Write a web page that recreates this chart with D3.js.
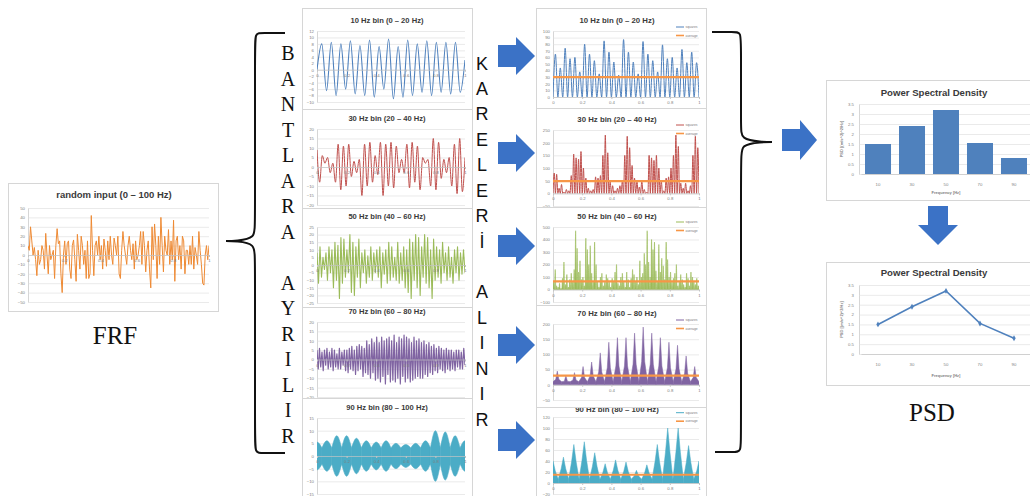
<!DOCTYPE html>
<html><head><meta charset="utf-8">
<script src="https://cdn.jsdelivr.net/npm/d3@7"></script>
<style>body{margin:0;background:#fff}svg{display:block}</style>
</head><body>
<script>
// ---------------- DATA ----------------
const timeTicks = [0, 0.2, 0.4, 0.6, 0.8, 1];
const timeTickLabels = ["0", "0.2", "0.4", "0.6", "0.8", "1"];

const frfTitle = "random input (0 – 100 Hz)";
const frfTicks = [-50, -40, -30, -20, -10, 0, 10, 20, 30, 40, 50];
const frfSignal = [10,5,30,15,0,8,-5,-22,5,-10,
  -5,10,5,-15,23,0,-20,10,-5,0,5,-25,10,
  28,12,15,-20,-40,0,15,-10,12,15,-15,-25,10,
  16,-5,-28,22,5,-15,20,10,-10,5,-25,15,-25,-20,
  42,5,-22,10,15,0,20,-5,10,-15,17,5,-12,15,
  -5,20,0,-10,18,10,0,20,-20,-25,5,25,10,0,
  -10,10,20,5,-5,12,-15,15,-5,0,10,25,-10,
  25,10,-18,5,15,-15,-35,30,-5,33,10,-25,20,
  -10,40,10,-18,20,5,0,27,-10,15,-5,37,-28,
  15,20,-5,10,-15,20,15,-20,5,5,-10,10,-10,
  20,-15,8,0,-10,25,5,-10,-30,-32,0,10,-5,10];

const binTitles = ["10 Hz bin (0 – 20 Hz)", "30 Hz bin (20 – 40 Hz)", "50 Hz bin (40 – 60 Hz)", "70 Hz bin (60 – 80 Hz)", "90 Hz bin (80 – 100 Hz)"];

const bin10Ticks = [-10,-8,-6,-4,-2,0,2,4,6,8,10,12];
const bin10Signal = [0,8,-6.5,8.5,-8,8,-6,9,-7.5,7.5,-8,9.2,-8.5,7.2,-6,9.5,-9,7.2,-8.5,9.2,-8,8,-7,9,-8,8.5,-7,8.5,-7.5,8.5,-7,3];

const bin30Ticks = [-20,-15,-10,-5,0,5,10,15,20];
const bin30Signal = [9,-8,6,2,5,-3,2,-8,12,-12,11,-10,12,-5,3,-3,4,-15,12,-10,13,-8,6,-4,13,-15,12,-10,13,-11,11,-3,4,-3,12,-11,13,-8,11,-12,5,2,4,-10,15,-12,13,-6,4,-3,5,-10,12,-14,15,-13,5];

const bin50Ticks = [-25,-20,-15,-10,-5,0,5,10,15,20,25];
const bin50Signal = [8,-12,12,-8,5,-3,8,-10,12,-5,
  10,-15,15,-10,13,-22,18,-12,17,-8,
  10,-5,20,-18,15,-20,12,-8,17,-15,
  8,-5,10,-12,6,-8,12,-10,8,-5,
  10,-8,12,-15,8,-6,10,-12,15,-10,
  12,-8,5,-10,15,-12,8,-10,12,-15,
  10,-18,17,-22,15,-10,20,-15,18,-20,
  12,-8,20,-12,18,-15,10,-22,17,-10,
  12,-8,10,-12,15,-5,8,-10,12,-8,
  5,-12,10,-5,12,-10,8,-6,10,-5];

const bin70Ticks = [-20,-15,-10,-5,0,5,10,15,20];
const bin70Signal = [5,-5,6,-4,4,-6,5,-3,6,-5,4,-4,
  6,-6,5,-4,3,-5,6,-5,4,-3,5,-6,
  5,-7,6,-5,7,-6,5,-8,7,-6,8,-5,
  7,-9,6,-7,10,-8,8,-10,11,-7,9,-11,
  12,-10,9,-12,12,-9,10,-13,11,-8,12,-12,
  10,-11,13,-12,9,-10,12,-13,11,-9,13,-12,
  12,-10,11,-12,9,-11,12,-10,10,-9,11,-10,
  9,-10,10,-8,8,-9,9,-7,7,-8,8,-6,
  6,-7,7,-5,6,-6,5,-7,6,-5,5,-6,
  5,-5,4,-6,5,-4,5,-5,4,-5,6,-3];

const bin90Ticks = [-15,-10,-5,0,5,10,15];
const bin90EnvelopePeaks = [5.5,6,8,8,7,6,5.5,6,5,4.5,5,6,10,9.5,8,6];
const bin90EnvelopeNode = 3.2;

const sq10Ticks = [0,10,20,30,40,50,60,70,80,90,100];
const sq10Peaks = [65,44,74,58,60,38,80,65,55,35,85,68,53,33,87,68,53,35,84,65,55,38,79,58,60,44,72,52,68,52];
const sq10Average = 30;

const sq30Ticks = [-50,0,50,100,150,200,250];
const sq30Peaks = [80,75,20,35,5,15,10,70,155,140,135,165,100,60,20,10,15,65,60,70,150,230,160,45,30,10,20,30,50,150,225,180,110,60,50,25,50,15,5,150,140,130,150,100,50,10,60,65,100,150,230,185,40,20,40,10,30,150,225,180];
const sq30Average = 48;

const sq50Ticks = [-100,0,100,200,300,400,500];
const sq50Peaks = [60,160,30,20,50,10,90,220,40,120,
  20,80,130,60,160,470,330,140,230,80,
  100,30,410,320,200,350,130,60,380,200,
  60,20,100,130,30,60,120,90,60,20,
  90,60,140,200,50,30,100,130,60,20,
  140,80,20,90,160,120,60,100,40,230,
  100,130,290,200,470,220,100,400,320,380,
  150,60,360,140,250,190,80,380,240,100,
  140,60,90,130,200,30,60,120,80,40,
  20,130,90,30,140,100,60,40,90,30];
const sq50Average = 65;

const sq70Ticks = [-50,0,50,100,150,200];
const sq70LobePeaks = [45,30,40,60,75,105,140,155,155,170,190,170,155,140,130,95,60];
const sq70Floor = 10;
const sq70Average = 30;

const sq90Ticks = [-20,0,20,40,60,80,100,120];
const sq90LobePeaks = [40,47,70,75,55,35,42,38,23,33,70,100,100,68,40];
const sq90Floor = 7;
const sq90Average = 15;

const legendLabels = ["squares", "average"];

const psdTitle = "Power Spectral Density";
const psdFreqs = ["10","30","50","70","90"];
const psdValues = [1.5, 2.4, 3.2, 1.55, 0.8];
const psdTicks = [0,0.5,1,1.5,2,2.5,3,3.5];
const psdYLabel = "PSD [(m/s^2)^2/Hz]";
const psdXLabel = "Frequency [Hz]";

const leftWord = "BANTLARA AYRILIR";
const midWord = "KARELERİ ALINIR";
const frfLabel = "FRF";
const psdLabel = "PSD";

// ---------------- DRAWING ----------------
const W = 1030, H = 496;
const svg = d3.select("body").append("svg").attr("width", W).attr("height", H)
  .style("font-family", "'Liberation Sans', Arial, sans-serif");
const defs = svg.append("defs");
let clipN = 0;

const C = {
  blue: "#4F81BD", red: "#C0504D", green: "#9BBB59", purple: "#8064A2",
  teal: "#4BACC6", orange: "#F79646", frf: "#EE8A34", arrow: "#3B72C6"
};
const titleFont = "'Liberation Sans Narrow','Liberation Sans',Arial,sans-serif";

function chart(cfg) {
  const g = svg.append("g");
  const [bx0, by0, bx1, by1] = cfg.box;
  g.append("rect").attr("x", bx0 + 0.5).attr("y", by0 + 0.5)
    .attr("width", bx1 - bx0).attr("height", by1 - by0)
    .attr("fill", "#fff").attr("stroke", "#d6d6d6").attr("stroke-width", 1);
  const x = cfg.xScale || d3.scaleLinear().domain([0, 1]).range(cfg.px);
  const y = d3.scaleLinear().domain(cfg.yDomain).range([cfg.py[1], cfg.py[0]]);
  const ya = g.append("g").attr("transform", `translate(${cfg.px[0]},0)`)
    .call(d3.axisLeft(y).tickValues(cfg.yTicks).tickSize(-(cfg.px[1] - cfg.px[0])).tickSizeOuter(0)
      .tickPadding(cfg.yPad || 3).tickFormat(d3.format("~g")));
  ya.select(".domain").attr("stroke", "#c4c4c4").attr("stroke-width", 0.7);
  ya.selectAll(".tick line").attr("stroke", "#dcdcdc").attr("stroke-width", 0.6);
  ya.selectAll("text").attr("font-size", cfg.labelSize || 4.3).attr("fill", "#808080");
  const id = "clip" + (clipN++);
  defs.append("clipPath").attr("id", id).append("rect")
    .attr("x", cfg.px[0]).attr("y", cfg.py[0] - 3)
    .attr("width", cfg.px[1] - cfg.px[0]).attr("height", cfg.py[1] - cfg.py[0] + 6);
  const plot = g.append("g").attr("clip-path", `url(#${id})`);
  if (cfg.title) {
    g.append("text").attr("x", cfg.titleX != null ? cfg.titleX : (bx0 + bx1) / 2)
      .attr("y", cfg.titleY).attr("text-anchor", "middle")
      .attr("font-family", titleFont).attr("font-weight", "bold")
      .attr("font-size", cfg.titleSize || 8).attr("fill", "#3a3a3a").text(cfg.title);
  }
  return { g, x, y, plot, cfg };
}

function timeAxis(ch) {
  const xa = ch.g.append("g").attr("transform", `translate(0,${ch.y(0)})`)
    .call(d3.axisBottom(ch.x).tickValues(timeTicks).tickFormat((d, i) => timeTickLabels[i])
      .tickSize(2).tickSizeOuter(0).tickPadding(2));
  xa.select(".domain").attr("stroke", "#c4c4c4").attr("stroke-width", 0.7);
  xa.selectAll(".tick line").attr("stroke", "#c4c4c4");
  xa.selectAll("text").attr("font-size", 4.3).attr("fill", "#808080");
}

function signalLine(ch, data, color, curve, width) {
  const n = data.length;
  ch.plot.append("path").datum(data)
    .attr("d", d3.line().x((d, i) => ch.x(i / (n - 1))).y(d => ch.y(d)).curve(curve || d3.curveMonotoneX))
    .attr("fill", "none").attr("stroke", color).attr("stroke-width", width || 1).attr("stroke-linejoin", "round");
}

function squaresSpikes(ch, peaks, color, filled) {
  const n = peaks.length;
  const pts = [];
  peaks.forEach((p, i) => { pts.push([i / n, 0]); pts.push([(i + 0.5) / n, p]); });
  pts.push([1, 0]);
  if (filled) {
    ch.plot.append("path").datum(pts)
      .attr("d", d3.area().x(d => ch.x(d[0])).y0(ch.y(0)).y1(d => ch.y(d[1])).curve(d3.curveMonotoneX))
      .attr("fill", color).attr("stroke", color).attr("stroke-width", 0.6);
  } else {
    ch.plot.append("path").datum(pts)
      .attr("d", d3.line().x(d => ch.x(d[0])).y(d => ch.y(d[1])).curve(d3.curveMonotoneX))
      .attr("fill", "none").attr("stroke", color).attr("stroke-width", 1);
  }
}

function spikyLobes(ch, peaks, floor, color, centered, shoulderX, shoulderY) {
  const n = peaks.length;
  const w = centered ? 1 / n : 1 / (n - 1);
  peaks.forEach((p, i) => {
    const c = centered ? (i + 0.5) * w : i * w;
    const pts = [[c - w / 2, floor], [c - w * shoulderX, p * shoulderY], [c, p], [c + w * shoulderX, p * shoulderY], [c + w / 2, floor]];
    ch.plot.append("path").datum(pts)
      .attr("d", d3.area().x(d => ch.x(d[0])).y0(ch.y(0)).y1(d => ch.y(d[1])))
      .attr("fill", color).attr("stroke", color).attr("stroke-width", 0.5);
  });
}

function averageLine(ch, v) {
  ch.plot.append("line").attr("x1", ch.x(0)).attr("x2", ch.x(1))
    .attr("y1", ch.y(v)).attr("y2", ch.y(v)).attr("stroke", C.orange).attr("stroke-width", 2.2);
}

function legend(ch, color, y1) {
  const items = [[color, y1], [C.orange, y1 + 8.5]];
  items.forEach(([c, yy], i) => {
    ch.g.append("line").attr("x1", 676).attr("x2", 684).attr("y1", yy).attr("y2", yy)
      .attr("stroke", c).attr("stroke-width", i ? 1.6 : 1);
    ch.g.append("text").attr("x", 685.5).attr("y", yy + 1.2).attr("font-size", 3.4)
      .attr("fill", "#808080").text(legendLabels[i]);
  });
}

// ---------- FRF ----------
{
  const ch = chart({ box: [8, 183, 218, 311], px: [28, 209], py: [208, 302], yDomain: [-50, 50],
    yTicks: frfTicks, title: frfTitle, titleY: 198, titleSize: 9.5, titleX: 114 });
  signalLine(ch, frfSignal, C.frf, d3.curveLinear, 1);
  timeAxis(ch);
}

// ---------- Middle column ----------
const mid = [
  { box: [302, 8, 472, 109], py: [31, 102], dom: [-10, 12], ticks: bin10Ticks, ty: 23, draw: ch => signalLine(ch, bin10Signal, C.blue, d3.curveMonotoneX, 1.1) },
  { box: [302, 109, 472, 208], py: [129, 205], dom: [-20, 20], ticks: bin30Ticks, ty: 121, draw: ch => signalLine(ch, bin30Signal, C.red, d3.curveMonotoneX, 1) },
  { box: [302, 208, 472, 307], py: [227, 303], dom: [-25, 25], ticks: bin50Ticks, ty: 219, draw: ch => signalLine(ch, bin50Signal, C.green, d3.curveLinear, 1.1) },
  { box: [302, 307, 472, 398], py: [322, 397], dom: [-20, 20], ticks: bin70Ticks, ty: 314, draw: ch => signalLine(ch, bin70Signal, C.purple, d3.curveLinear, 1.2) },
  { box: [302, 398, 472, 500], py: [418, 494], dom: [-15, 15], ticks: bin90Ticks, ty: 410, draw: ch => {
      const n = bin90EnvelopePeaks.length, w = 1 / (n - 1);
      bin90EnvelopePeaks.forEach((p, i) => {
        const c = i * w;
        const pts = [[c - w / 2, bin90EnvelopeNode], [c, p], [c + w / 2, bin90EnvelopeNode]];
        ch.plot.append("path").datum(pts)
          .attr("d", d3.area().x(d => ch.x(d[0])).y0(d => ch.y(-d[1])).y1(d => ch.y(d[1])).curve(d3.curveMonotoneX))
          .attr("fill", C.teal).attr("stroke", C.teal).attr("stroke-width", 0.6);
      });
    } }
];
mid.forEach((m, k) => {
  const ch = chart({ box: m.box, px: [317, 465], py: m.py, yDomain: m.dom, yTicks: m.ticks,
    title: binTitles[k], titleY: m.ty, titleSize: 7.6, titleX: 387 });
  m.draw(ch);
  timeAxis(ch);
});

// ---------- Right column (squares) ----------
const sq = [
  { box: [536, 305, 706, 407], py: [324, 400], dom: [-50, 200], ticks: sq70Ticks, ty: 316, color: C.purple, k: 3, avg: sq70Average,
    draw: ch => spikyLobes(ch, sq70LobePeaks, sq70Floor, C.purple, true, 0.18, 0.4), leg: 320 },
  { box: [536, 8, 706, 108], py: [31, 97], dom: [0, 100], ticks: sq10Ticks, ty: 23, color: C.blue, k: 0, avg: sq10Average,
    draw: ch => squaresSpikes(ch, sq10Peaks, C.blue, false), leg: 27 },
  { box: [536, 108, 706, 207], py: [130, 206], dom: [-50, 250], ticks: sq30Ticks, ty: 122, color: C.red, k: 1, avg: sq30Average,
    draw: ch => squaresSpikes(ch, sq30Peaks, C.red, false), leg: 125 },
  { box: [536, 207, 706, 305], py: [227, 302], dom: [-100, 500], ticks: sq50Ticks, ty: 219, color: C.green, k: 2, avg: sq50Average,
    draw: ch => squaresSpikes(ch, sq50Peaks, C.green, true), leg: 222 }
];
// 90 Hz squares first so the 70 Hz panel covers the top of its title
{
  const ch = chart({ box: [536, 404, 706, 500], px: [553, 699], py: [417, 494], yDomain: [-20, 120], yTicks: sq90Ticks,
    title: binTitles[4], titleY: 411.5, titleSize: 7.8, titleX: 617 });
  spikyLobes(ch, sq90LobePeaks, sq90Floor, C.teal, false, 0.22, 0.55);
  averageLine(ch, sq90Average);
  timeAxis(ch);
  legend(ch, C.teal, 412.7);
}
sq.forEach(s => {
  const ch = chart({ box: s.box, px: [553, 699], py: s.py, yDomain: s.dom, yTicks: s.ticks,
    title: binTitles[s.k], titleY: s.ty, titleSize: 7.8, titleX: 617 });
  s.draw(ch);
  averageLine(ch, s.avg);
  timeAxis(ch);
  legend(ch, s.color, s.leg);
});

// ---------- PSD charts ----------
function psdChart(box, py, titleY, labelY, xTitleY, type) {
  const xb = d3.scaleBand().domain(psdFreqs).range([861, 1031]).paddingInner(0.235).paddingOuter(0.118);
  const ch = chart({ box: box, px: [859, 1031], py: py, yDomain: [0, 3.5], yTicks: psdTicks,
    title: psdTitle, titleY: titleY, titleSize: 9.6, titleX: 934, xScale: xb, yPad: 5 });
  if (type === "bar") {
    ch.plot.selectAll("rect.bar").data(psdValues).join("rect").attr("class", "bar")
      .attr("x", (d, i) => xb(psdFreqs[i])).attr("width", xb.bandwidth())
      .attr("y", d => ch.y(d)).attr("height", d => ch.y(0) - ch.y(d)).attr("fill", C.blue);
  } else {
    const xp = d3.scalePoint().domain(psdFreqs).range([861, 1031]).padding(0.5);
    ch.g.append("path").datum(psdValues)
      .attr("d", d3.line().x((d, i) => xp(psdFreqs[i])).y(d => ch.y(d)))
      .attr("fill", "none").attr("stroke", C.blue).attr("stroke-width", 1.6);
    ch.g.selectAll("path.mk").data(psdValues).join("path").attr("class", "mk")
      .attr("transform", (d, i) => `translate(${xp(psdFreqs[i])},${ch.y(d)})`)
      .attr("d", d3.symbol(d3.symbolDiamond, 10)).attr("fill", C.blue);
  }
  const xa = ch.g.append("g").attr("transform", `translate(0,${ch.y(0)})`)
    .call(d3.axisBottom(xb).tickSize(0).tickSizeOuter(0).tickPadding(labelY - ch.y(0) - 3));
  xa.select(".domain").attr("stroke", "#c4c4c4").attr("stroke-width", 0.7);
  xa.selectAll("text").attr("font-size", 4.3).attr("fill", "#808080");
  ch.g.append("text").attr("x", 946).attr("y", xTitleY).attr("text-anchor", "middle")
    .attr("font-size", 4).attr("font-weight", "bold").attr("fill", "#808080").text(psdXLabel);
  ch.g.append("text").attr("transform", `translate(842.5,${(py[0] + py[1]) / 2}) rotate(-90)`)
    .attr("text-anchor", "middle").attr("font-size", 4).attr("font-weight", "bold")
    .attr("fill", "#808080").text(psdYLabel);
}
psdChart([826, 80, 1032, 200], [104, 174], 95.5, 186, 194, "bar");
psdChart([826, 262, 1032, 385], [285, 354], 276, 366, 377, "line");

// ---------- Braces ----------
const braceLine = d3.line().curve(d3.curveBasis);
svg.append("path").datum([[285, 33], [262, 33], [255, 33], [255, 48], [255, 225], [255, 238], [238, 241], [220, 241],
  [238, 241], [255, 244], [255, 258], [255, 438], [255, 453], [262, 453], [285, 453]])
  .attr("d", braceLine).attr("fill", "none").attr("stroke", "#111").attr("stroke-width", 2);
svg.append("path").datum([[712, 32], [734, 32], [741, 32], [741, 46], [741, 128], [741, 139], [760, 142], [778, 142],
  [760, 142], [741, 145], [741, 156], [741, 438], [741, 452], [734, 452], [715, 452]])
  .attr("d", braceLine).attr("fill", "none").attr("stroke", "#111").attr("stroke-width", 2);

// ---------- Arrows ----------
function arrowRight(x0, cy, len, shaftH, headH, headLen) {
  const xh = x0 + len - headLen;
  return `M${x0},${cy - shaftH / 2}H${xh}V${cy - headH / 2}L${x0 + len},${cy}L${xh},${cy + headH / 2}V${cy + shaftH / 2}H${x0}Z`;
}
[56, 153, 246, 345, 440].forEach(cy => {
  svg.append("path").attr("d", arrowRight(498, cy, 37, 22, 38, 19)).attr("fill", C.arrow);
});
svg.append("path").attr("d", arrowRight(782, 140, 35, 22, 40, 17)).attr("fill", C.arrow);
// down arrow
svg.append("path").attr("d", "M928,206H948V225H958L938,245L918,225H928Z").attr("fill", C.arrow);

// ---------- Vertical words ----------
svg.append("g").selectAll("text").data(leftWord.split("")).join("text")
  .attr("x", 288).attr("y", (d, i) => 53 + i * 25.5 + 7).attr("text-anchor", "middle")
  .attr("font-family", "'Liberation Serif','Times New Roman',serif").attr("font-size", 20).attr("fill", "#111")
  .text(d => d);
svg.append("g").selectAll("text").data(midWord.split("")).join("text")
  .attr("x", 482).attr("y", (d, i) => 63 + i * 25.43 + 6.5).attr("text-anchor", "middle")
  .attr("font-family", "'Liberation Sans',Arial,sans-serif").attr("font-size", 18).attr("fill", "#111")
  .text(d => d);

svg.append("text").attr("x", 115).attr("y", 344).attr("text-anchor", "middle")
  .attr("font-family", "'Liberation Serif','Times New Roman',serif").attr("font-size", 25).attr("fill", "#111").text(frfLabel);
svg.append("text").attr("x", 932).attr("y", 421).attr("text-anchor", "middle")
  .attr("font-family", "'Liberation Serif','Times New Roman',serif").attr("font-size", 25).attr("fill", "#111").text(psdLabel);
</script>
</body></html>
